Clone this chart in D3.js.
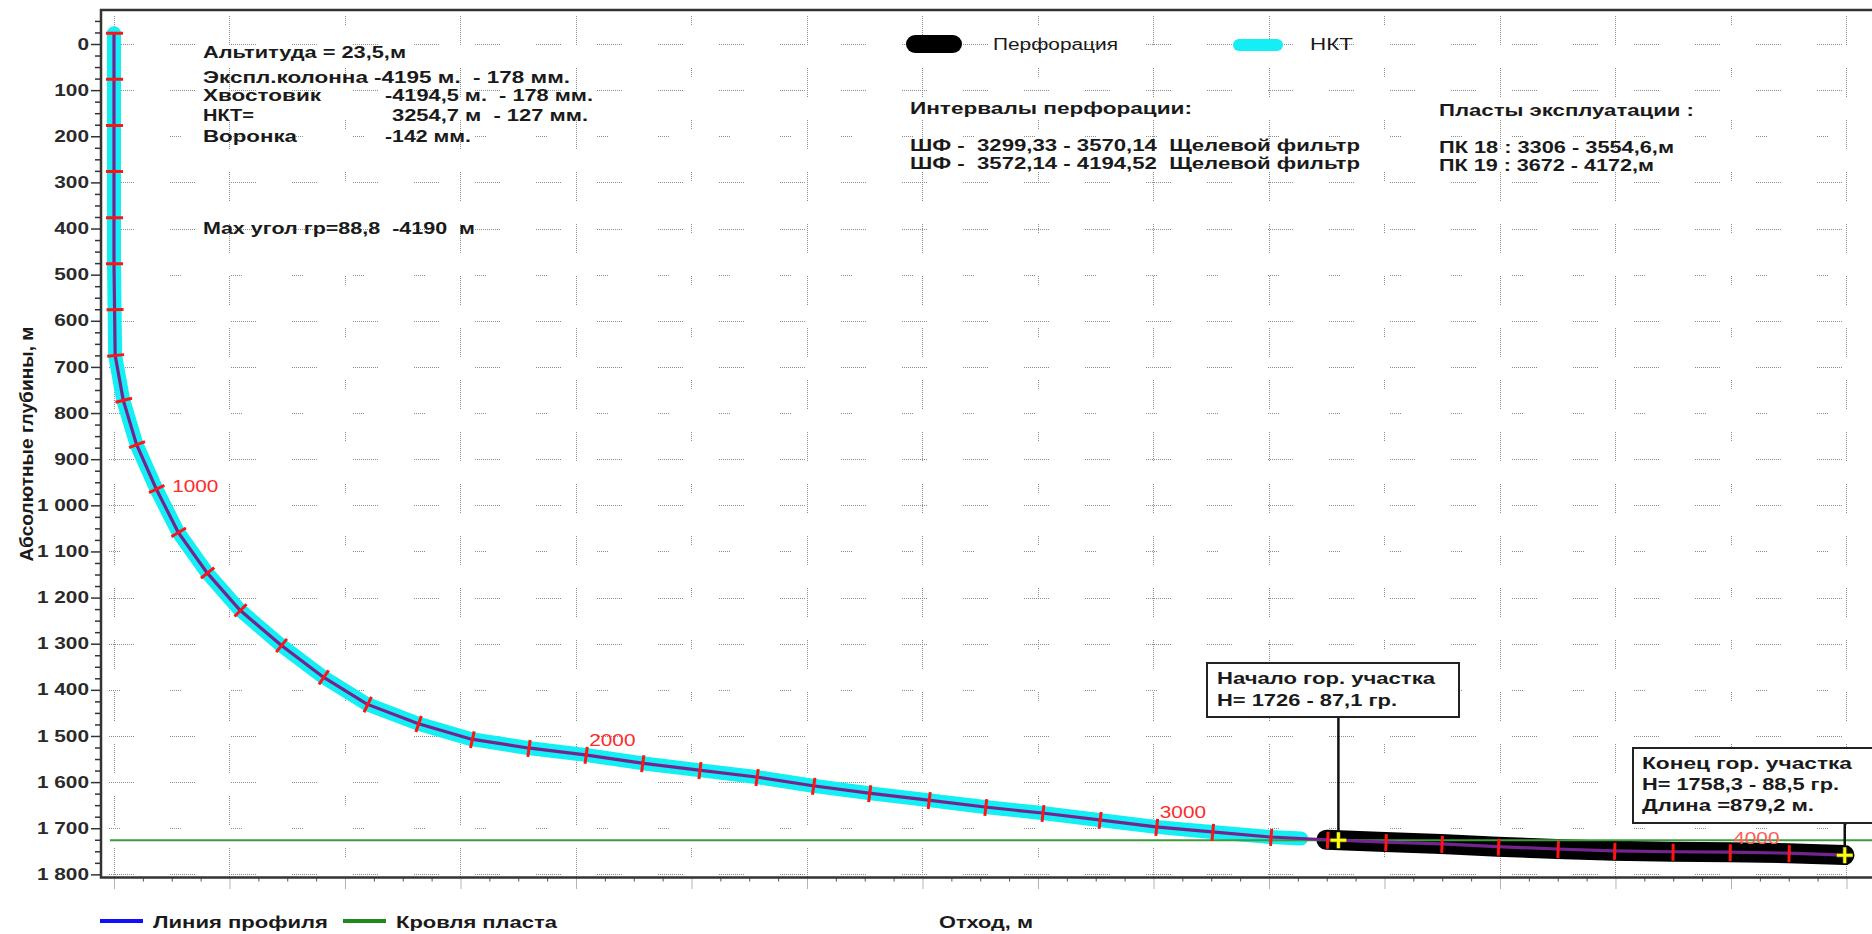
<!DOCTYPE html>
<html>
<head>
<meta charset="utf-8">
<script src="https://cdn.jsdelivr.net/npm/d3@7"></script>
<style>
body { margin: 0; background: #fff; }
svg { display: block; font-family: Arial, "Liberation Sans", sans-serif; }
</style>
</head>
<body>
<div id="chart"></div>
<script>
const md = [0, 100, 200, 300, 400, 500, 600, 700, 800, 900, 1000, 1100, 1200, 1300, 1400, 1500, 1600, 1700,
	1800, 1900, 2000, 2100, 2200, 2300, 2400, 2500, 2600, 2700, 2800, 2900, 3000, 3100, 3200, 3300, 3400,
	3500, 3600, 3700, 3800, 3900, 4000, 4100, 4195];
const offset = [0, 0, 0, 0, 0, 0, 1, 2, 16, 39, 73, 111, 161, 218, 289, 362, 438, 526,
	619, 717, 816, 914, 1013, 1112, 1210, 1307, 1410, 1508, 1607, 1706, 1804, 1901, 2002, 2100, 2201,
	2298, 2396, 2499, 2597, 2698, 2797, 2899, 2997];
const depth = [-23.5, 76.5, 176.5, 276.5, 376.5, 476.5, 576, 675, 772, 868, 964, 1058, 1146, 1227, 1303, 1372, 1431, 1473,
	1507, 1526, 1541, 1559, 1574, 1589, 1608, 1624, 1639, 1654, 1667, 1682, 1697, 1708, 1719, 1725, 1730,
	1734, 1740, 1745, 1749, 1751, 1752, 1754, 1758.3];

const mdLabels = [1000, 2000, 3000, 4000];
const depthTicks = d3.range(0, 1801, 100);
const offsetTicks = d3.range(0, 3001, 200);

const nktEnd = 3254.7;
const perfStart = 3299.33;
const perfEnd = 4194.52;
const roofDepth = 1726;

const wellInfo = ["Альтитуда = 23,5,м", "Экспл.колонна -4195 м.  - 178 мм."];
const wellNames = ["Хвостовик", "НКТ=", "Воронка"];
const wellValues = ["-4194,5 м.  - 178 мм.", "3254,7 м  - 127 мм.", "-142 мм."];
const maxAngle = "Max угол гр=88,8  -4190  м";
const perfInfo = ["Интервалы перфорации:", "ШФ -  3299,33 - 3570,14  Щелевой фильтр", "ШФ -  3572,14 - 4194,52  Щелевой фильтр"];
const layerInfo = ["Пласты эксплуатации :", "ПК 18 : 3306 - 3554,6,м", "ПК 19 : 3672 - 4172,м"];
const startNote = ["Начало гор. участка", "Н= 1726 - 87,1 гр."];
const endNote = ["Конец гор. участка", "Н= 1758,3 - 88,5 гр.", "Длина =879,2 м."];

const W = 1872, H = 934;
const plot = {left: 101, top: 10, right: 1872, bottom: 877.5};
const ink = '#1a1a1a';

const svg = d3.select('#chart').append('svg')
	.attr('width', W)
	.attr('height', H);

const x = d3.scaleLinear().domain([-22.5, 3044.2]).range([plot.left, plot.right]);
const y = d3.scaleLinear().domain([-73.7, 1806.8]).range([plot.top, plot.bottom]);

svg.append('defs').append('clipPath').attr('id', 'clip')
	.append('rect')
	.attr('x', plot.left).attr('y', plot.top)
	.attr('width', plot.right - plot.left).attr('height', plot.bottom - plot.top);

const g = svg.append('g').attr('clip-path', 'url(#clip)');

// dotted dash: len px of 1/1 dots, then a gap to fill the period
function dots(len, period) {
	const a = [];
	for (let i = 0; i < len / 2; i++) a.push(1, 1);
	a[a.length - 1] = period - len + 1;
	return a.join(' ');
}

function stretch(sel, f) {
	sel.each(function() {
		const l = this.getComputedTextLength();
		d3.select(this).attr('textLength', l * f).attr('lengthAdjust', 'spacingAndGlyphs');
	});
}

function label(parent, str, x0, yc, w, bold, size) {
	const t = parent.append('text')
		.attr('x', x0).attr('y', yc).attr('dy', '0.35em')
		.attr('font-size', size || 16)
		.attr('font-weight', bold === false ? 'normal' : 'bold')
		.attr('fill', ink)
		.style('white-space', 'pre')
		.text(str);
	if (w) t.attr('textLength', w).attr('lengthAdjust', 'spacingAndGlyphs');
	return t;
}

// grid - sparse dotted dashes like the original export
g.selectAll('line.hgrid').data(depthTicks).join('line')
	.attr('class', 'hgrid')
	.attr('x1', plot.left + 8).attr('x2', plot.right)
	.attr('y1', d => Math.round(y(d)) + 0.5).attr('y2', d => Math.round(y(d)) + 0.5)
	.attr('stroke', '#8c8c8c')
	.attr('stroke-dasharray', (d, i) => dots(i % 3 === 2 ? 12 : 26, 61));
g.selectAll('line.vgrid').data(offsetTicks).join('line')
	.attr('class', 'vgrid')
	.attr('x1', d => Math.round(x(d)) + 0.5).attr('x2', d => Math.round(x(d)) + 0.5)
	.attr('y1', plot.top + 6).attr('y2', plot.bottom)
	.attr('stroke', '#8c8c8c')
	.attr('stroke-dasharray', (d, i) => dots(i % 3 === 2 ? 10 : 30, 52));

// axes
const fmt = d3.formatLocale({decimal: ',', thousands: ' ', grouping: [3], currency: ['', '']}).format(',');
const yAxis = svg.append('g')
	.attr('transform', `translate(${plot.left},0)`)
	.call(d3.axisLeft(y).tickValues(depthTicks).tickSize(10).tickPadding(2).tickFormat(fmt));
yAxis.select('.domain').remove();
yAxis.selectAll('line').attr('stroke', '#333').attr('stroke-width', 1.5);
yAxis.selectAll('text')
	.attr('font-size', 16).attr('font-weight', 'bold').attr('fill', '#2a2a2a')
	.attr('font-family', 'Arial, "Liberation Sans", sans-serif');
stretch(yAxis.selectAll('text'), 1.3);

const yMinor = svg.append('g')
	.attr('transform', `translate(${plot.left},0)`)
	.call(d3.axisLeft(y).tickValues(d3.range(-50, 1806, 25).filter(d => d % 100 !== 0)).tickSize(6).tickFormat(''));
yMinor.select('.domain').remove();
yMinor.selectAll('line').attr('stroke', '#333').attr('stroke-width', 1.5);

const xAxis = svg.append('g')
	.attr('transform', `translate(0,${plot.bottom})`)
	.call(d3.axisBottom(x).tickValues(offsetTicks).tickSize(11).tickFormat(''));
xAxis.select('.domain').remove();
xAxis.selectAll('line').attr('stroke', '#666').attr('stroke-dasharray', '1 1');

const xMinor = svg.append('g')
	.attr('transform', `translate(0,${plot.bottom})`)
	.call(d3.axisBottom(x).tickValues(d3.range(0, 3044, 50).filter(d => d % 200 !== 0)).tickSize(4).tickFormat(''));
xMinor.select('.domain').remove();
xMinor.selectAll('line').attr('stroke', '#555');

// frame
svg.append('path')
	.attr('d', `M${plot.right + 5},${plot.top}H${plot.left}V${plot.bottom}H${plot.right + 5}`)
	.attr('fill', 'none').attr('stroke', '#333').attr('stroke-width', 2.5);

// trajectory helpers
function at(m) {
	let i = d3.bisectRight(md, m) - 1;
	i = Math.max(0, Math.min(i, md.length - 2));
	const t = (m - md[i]) / (md[i + 1] - md[i]);
	return [offset[i] + t * (offset[i + 1] - offset[i]), depth[i] + t * (depth[i + 1] - depth[i])];
}
function span(m1, m2) {
	const p = [at(m1)];
	md.forEach((m, i) => { if (m > m1 && m < m2) p.push([offset[i], depth[i]]); });
	p.push(at(m2));
	return p;
}
const line = d3.line().x(d => x(d[0])).y(d => y(d[1]));

// НКТ and perforation bands
g.append('path')
	.attr('d', line(span(0, nktEnd)))
	.attr('fill', 'none').attr('stroke', '#14eef5').attr('stroke-width', 14)
	.attr('stroke-linecap', 'round').attr('stroke-linejoin', 'round');
g.append('path')
	.attr('d', line(span(perfStart, perfEnd)))
	.attr('fill', 'none').attr('stroke', '#000').attr('stroke-width', 20)
	.attr('stroke-linecap', 'round').attr('stroke-linejoin', 'round');

function mdLabel(m) {
	const i = md.indexOf(m);
	const a = [x(offset[i - 1]), y(depth[i - 1])], b = [x(offset[i + 1]), y(depth[i + 1])];
	const steep = Math.abs(b[1] - a[1]) > Math.abs(b[0] - a[0]);
	const px = x(offset[i]), py = y(depth[i]);
	const t = g.append('text')
		.attr('x', steep ? px + 16 : px + 4)
		.attr('y', steep ? py - 2 : py - 14)
		.attr('dy', '0.35em')
		.attr('font-size', 16)
		.attr('fill', m === 4000 ? '#ff5a5a' : '#ff2a2a')
		.text(m);
	stretch(t, 1.3);
}

// кровля пласта
g.append('line')
	.attr('x1', 110).attr('x2', plot.right)
	.attr('y1', y(roofDepth)).attr('y2', y(roofDepth))
	.attr('stroke', '#3c9c3c').attr('stroke-width', 2);

// profile line
g.append('path')
	.attr('d', line(span(0, md[md.length - 1])))
	.attr('fill', 'none').attr('stroke', '#74248f').attr('stroke-width', 3.2);

// 100 m marks, perpendicular to the path
md.forEach((m, i) => {
	if (m % 100 !== 0) return;
	const a = md[i - 1] !== undefined ? i - 1 : i;
	const b = md[i + 1] !== undefined ? i + 1 : i;
	const dx = x(offset[b]) - x(offset[a]), dy = y(depth[b]) - y(depth[a]);
	const len = Math.hypot(dx, dy);
	const nx = -dy / len, ny = dx / len;
	const px = x(offset[i]), py = y(depth[i]);
	g.append('line')
		.attr('x1', px - nx * 8 + 1).attr('y1', py - ny * 8)
		.attr('x2', px + nx * 9 + 1).attr('y2', py + ny * 9)
		.attr('stroke', '#ff1414').attr('stroke-width', 3);
});

mdLabels.forEach(mdLabel);

// start / end of horizontal section
let startPt = null;
for (let i = 0; i < md.length - 1; i++) {
	if (depth[i] <= roofDepth && depth[i + 1] > roofDepth) {
		const t = (roofDepth - depth[i]) / (depth[i + 1] - depth[i]);
		startPt = [x(offset[i] + t * (offset[i + 1] - offset[i])), y(roofDepth)];
		break;
	}
}
const endPt = [x(offset[offset.length - 1]), y(depth[depth.length - 1])];

function cross(p) {
	const s = 8;
	[['#333', 5], ['#ffff00', 3]].forEach(([c, w]) => {
		svg.append('path')
			.attr('d', `M${p[0] - s},${p[1]}H${p[0] + s}M${p[0]},${p[1] - s}V${p[1] + s}`)
			.attr('stroke', c).attr('stroke-width', w).attr('fill', 'none');
	});
}

// callouts
svg.append('line')
	.attr('x1', startPt[0]).attr('x2', startPt[0]).attr('y1', 717).attr('y2', startPt[1])
	.attr('stroke', '#111').attr('stroke-width', 2.5);
svg.append('line')
	.attr('x1', endPt[0]).attr('x2', endPt[0]).attr('y1', 823).attr('y2', endPt[1])
	.attr('stroke', '#111').attr('stroke-width', 2.5);
cross(startPt);
cross(endPt);

svg.append('rect')
	.attr('x', 1207).attr('y', 663).attr('width', 252).attr('height', 54)
	.attr('fill', '#fff').attr('stroke', '#222').attr('stroke-width', 2);
label(svg, startNote[0], 1217, 678, 218);
label(svg, startNote[1], 1217, 700, 180);

svg.append('rect')
	.attr('x', 1633).attr('y', 748).attr('width', 260).attr('height', 75)
	.attr('fill', '#fff').attr('stroke', '#222').attr('stroke-width', 2);
label(svg, endNote[0], 1642, 763, 210);
label(svg, endNote[1], 1642, 784, 197);
label(svg, endNote[2], 1642, 805, 172);

// well info block
label(svg, wellInfo[0], 203, 52, 203);
label(svg, wellInfo[1], 203, 77, 367);
const nameW = [118, 51, 94];
const valX = [385, 392, 385];
const valW = [208, 196, 86];
wellNames.forEach((s, i) => {
	const yc = [95.5, 115.5, 136.5][i];
	label(svg, s, 203, yc, nameW[i]);
	label(svg, wellValues[i], valX[i], yc, valW[i]);
});
label(svg, maxAngle, 203, 228, 272);

perfInfo.forEach((s, i) => label(svg, s, 910, [108, 145.5, 163][i], i === 0 ? 282 : 450));
layerInfo.forEach((s, i) => label(svg, s, 1439, [110, 147, 165][i], [255, 235, 215][i]));

// top legend
svg.append('line').attr('x1', 915).attr('x2', 953).attr('y1', 44).attr('y2', 44)
	.attr('stroke', '#000').attr('stroke-width', 18).attr('stroke-linecap', 'round');
label(svg, 'Перфорация', 993, 44, 125, false);
svg.append('line').attr('x1', 1239).attr('x2', 1277).attr('y1', 45).attr('y2', 45)
	.attr('stroke', '#14eef5').attr('stroke-width', 12).attr('stroke-linecap', 'round');
label(svg, 'НКТ', 1310, 44, 43, false);

// bottom legend and axis titles
svg.append('line').attr('x1', 100).attr('x2', 143).attr('y1', 921).attr('y2', 921)
	.attr('stroke', '#1010ff').attr('stroke-width', 4);
label(svg, 'Линия профиля', 153, 922, 175);
svg.append('line').attr('x1', 343).attr('x2', 386).attr('y1', 921).attr('y2', 921)
	.attr('stroke', '#1e8a1e').attr('stroke-width', 4);
label(svg, 'Кровля пласта', 396, 922, 161);
label(svg, 'Отход, м', 939, 922, 94);

svg.append('text')
	.attr('transform', 'translate(27,444) rotate(-90)')
	.attr('text-anchor', 'middle').attr('dy', '0.35em')
	.attr('font-size', 18).attr('font-weight', 'bold').attr('fill', ink)
	.attr('textLength', 235).attr('lengthAdjust', 'spacingAndGlyphs')
	.text('Абсолютные глубины, м');
</script>
</body>
</html>
